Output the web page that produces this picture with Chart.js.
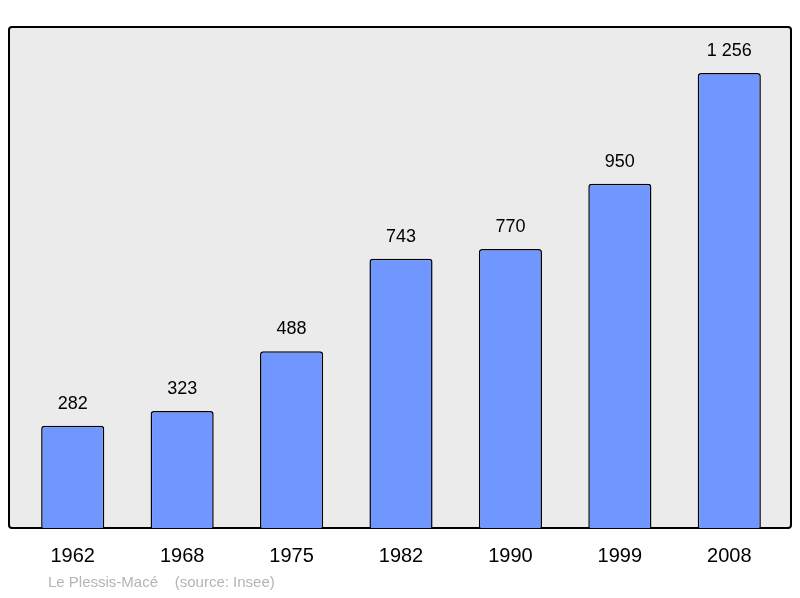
<!DOCTYPE html>
<html>
<head>
<meta charset="utf-8">
<script src="https://cdn.jsdelivr.net/npm/chart.js@4"></script>
<style>
  html, body { margin: 0; padding: 0; background: #fff; }
  #wrap { width: 800px; height: 598px; }
</style>
</head>
<body>
<div id="wrap"><canvas id="c"></canvas></div>
<script>
var years = ['1962', '1968', '1975', '1982', '1990', '1999', '2008'];
var population = [282, 323, 488, 743, 770, 950, 1256];
var commune = 'Le Plessis-Macé';
var source = '(source: Insee)';

function fmt(v) {
  return String(v).replace(/\B(?=(\d{3})+(?!\d))/g, ' ');
}

var decor = {
  id: 'decor',
  beforeDraw: function(chart) {
    var ctx = chart.ctx;
    var a = chart.chartArea;
    ctx.save();
    ctx.fillStyle = '#ebebeb';
    ctx.strokeStyle = '#000';
    ctx.lineWidth = 2;
    ctx.beginPath();
    ctx.roundRect(9, a.top, 782, a.bottom - a.top, 3);
    ctx.fill();
    ctx.stroke();
    ctx.restore();
  },
  afterDatasetsDraw: function(chart) {
    var ctx = chart.ctx;
    var meta = chart.getDatasetMeta(0);
    var xs = chart.scales.x;
    ctx.save();
    ctx.fillStyle = '#000';
    ctx.textAlign = 'center';
    ctx.textBaseline = 'middle';
    ctx.font = '18px "Liberation Sans", Arial, sans-serif';
    meta.data.forEach(function(bar, i) {
      ctx.fillText(fmt(population[i]), bar.x, bar.y - 22);
    });
    ctx.font = '20px "Liberation Sans", Arial, sans-serif';
    years.forEach(function(y, i) {
      ctx.fillText(y, xs.getPixelForValue(i), 556);
    });
    ctx.fillStyle = '#b4b4b4';
    ctx.textAlign = 'left';
    ctx.font = '15px "Liberation Sans", Arial, sans-serif';
    ctx.fillText(commune + '    ' + source, 48, 583);
    ctx.restore();
  }
};

new Chart(document.getElementById('c'), {
  type: 'bar',
  data: {
    labels: years,
    datasets: [{
      data: population,
      backgroundColor: '#7097ff',
      borderColor: '#000',
      borderWidth: 1.5,
      borderRadius: 3,
      borderSkipped: 'bottom',
      barPercentage: 0.577,
      categoryPercentage: 1
    }]
  },
  options: {
    responsive: true,
    maintainAspectRatio: false,
    animation: false,
    layout: { padding: { left: 18, right: 16, top: 27, bottom: 70 } },
    scales: {
      x: { display: false },
      y: { display: false, min: 0, max: 1383 }
    },
    plugins: {
      legend: { display: false },
      tooltip: { enabled: false }
    }
  },
  plugins: [decor]
});
</script>
</body>
</html>
